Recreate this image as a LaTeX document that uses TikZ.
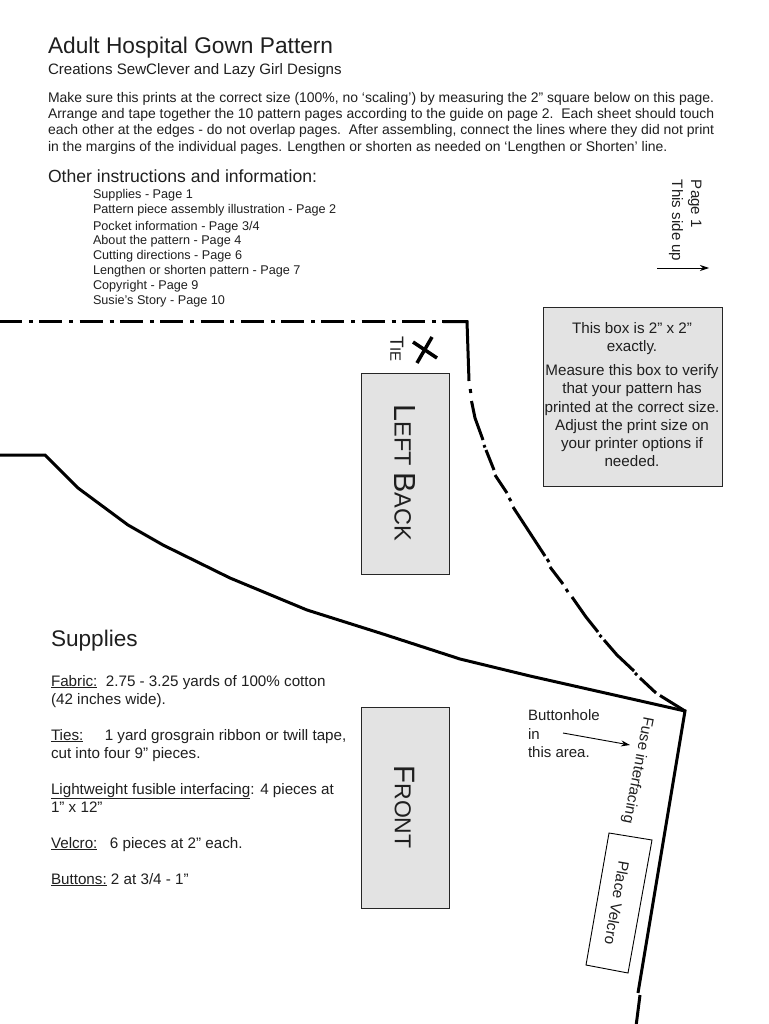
\documentclass[tikz,border=0pt]{standalone}
\usepackage{fontspec}
\usetikzlibrary{arrows.meta}
\setmainfont{Liberation Sans}
\tikzset{
 x=1pt,y=-1pt,
 txt/.style={anchor=base west,inner sep=0pt,outer sep=0pt,text=black!88},
 body/.style={txt,font=\fontsize{13.95}{15}\selectfont},
 small/.style={txt,font=\fontsize{12.65}{14}\selectfont},
 supp/.style={txt,font=\fontsize{15.2}{17}\selectfont},
 grayb/.style={draw=black!85,line width=.9pt,fill=black!11},
 patt/.style={line width=3pt,black},
 dd/.style={patt,dash pattern=on 23pt off 6.9pt on 4pt off 6.4pt,dash phase=1pt},
 arr/.style={-{Stealth[length=9pt,width=6pt]},line width=.9pt},
}
\begin{document}
\begin{tikzpicture}
\useasboundingbox (0,0) rectangle (768,1024);
\fill[white] (0,0) rectangle (768,1024);
\node[txt,font=\fontsize{22.7}{24}\selectfont] (title) at (48,54) {Adult Hospital Gown Pattern};
\node[txt,font=\fontsize{15.1}{16}\selectfont] (sub) at (48,75) {Creations SewClever and Lazy Girl Designs};
\node[body] (l1) at (48,103) {Make sure this prints at the correct size (100\%, no ‘scaling’) by measuring the 2” square below on this page.};
\node[body] (l2) at (48,118.5) {Arrange and tape together the 10 pattern pages according to the guide on page 2.\ \ Each sheet should touch};
\node[body] (l3) at (48,134.5) {each other at the edges - do not overlap pages.\ \ After assembling, connect the lines where they did not print};
\node[body] (l4) at (48,152) {in the margins of the individual pages. Lengthen or shorten as needed on ‘Lengthen or Shorten’ line.};
\node[txt,font=\fontsize{17.6}{20}\selectfont] (other) at (48,182.5) {Other instructions and information:};
\node[small] (i1) at (93,199) {Supplies - Page 1};
\node[small] (i2) at (93,214) {Pattern piece assembly illustration - Page 2};
\node[small] (i3) at (93,230) {Pocket information - Page 3/4};
\node[small] (i4) at (93,244.5) {About the pattern - Page 4};
\node[small] (i5) at (93,259.5) {Cutting directions - Page 6};
\node[small] (i6) at (93,274.5) {Lengthen or shorten pattern - Page 7};
\node[small] (i7) at (93,289.5) {Copyright - Page 9};
\node[small] (i8) at (93,304.5) {Susie’s Story - Page 10};
\node[txt,rotate=-90,font=\fontsize{15.1}{16}\selectfont] (pg) at (691,180) {Page 1};
\node[txt,rotate=-90,font=\fontsize{15.1}{16}\selectfont] (up) at (672,180) {This side up};
\coordinate (a1) at (657,268);
\coordinate (a2) at (709,268);
\draw[arr] (a1) -- (a2);
% grey box
\path[grayb] (543,307) rectangle (722,486);
\node[anchor=center,align=center,font=\fontsize{15.2}{18}\selectfont,text=black!88] (gt1) at (632,338.5) {This box is 2” x 2”\\exactly.};
\node[anchor=center,align=center,font=\fontsize{15.2}{18.1}\selectfont,text=black!88] (gt2) at (632,415.7) {Measure this box to verify\\that your pattern has\\printed at the correct size.\\Adjust the print size on\\your printer options if\\needed.};
% left back, front
\node[grayb,minimum width=88pt,minimum height=201pt,inner sep=0pt,anchor=north west] (lb) at (361,373) {};
\node[rotate=-90,font=\fontsize{30.5}{32}\selectfont,text=black!88,inner sep=0pt] (lbt) at (405,473) {L\fontsize{23.5}{25}\selectfont EFT \fontsize{30.5}{32}\selectfont B\fontsize{23.5}{25}\selectfont ACK};
\node[grayb,minimum width=88pt,minimum height=201pt,inner sep=0pt,anchor=north west] (fr) at (361,707) {};
\node[rotate=-90,font=\fontsize{29.5}{32}\selectfont,text=black!88,inner sep=0pt] (frt) at (405,807) {F\fontsize{23}{25}\selectfont RONT};
\node[rotate=-90,font=\fontsize{19}{21}\selectfont,text=black!88,inner sep=0pt] (tie) at (397,349) {T\fontsize{15}{17}\selectfont IE};
\draw[line width=3.5pt] (413,342) -- (437,358);
\draw[line width=3.5pt] (432,337) -- (417,363);
% pattern lines
\draw[dd] (0,321.5) -- (443,321.5);
\draw[patt,miter limit=10] (443,321.5) -- (467,321.5) -- (469,381);
\draw[patt] (470.2,389) -- (470.8,393);
\draw[patt] (471.5,401) -- (475,418) -- (483,440);
\draw[patt] (484,445) -- (485,447.5);
\draw[patt] (486,450) -- (494,470);
\draw[patt] (495,475) -- (507,493);
\draw[patt] (509,498) -- (511,501);
\draw[patt] (513,507) -- (545,556);
\draw[patt] (547,559) -- (549,562);
\draw[patt] (550,567) -- (563,584);
\draw[patt] (566,589) -- (568,592);
\draw[patt] (572,597) -- (586,617) -- (598,632);
\draw[patt] (599.5,635) -- (601.5,637);
\draw[patt] (604,640) -- (617,655) -- (634,671);
\draw[patt] (635,673) -- (637,675);
\draw[patt] (640,678) -- (656,693);
\draw[patt] (660,695.5) -- (685,711);
\draw[patt,miter limit=10] (0,455) -- (45,455) -- (78,488) -- (128,525) -- (163,545) -- (230,578) -- (307,610) -- (383,634) -- (460,659) -- (530,676) -- (685,711) -- (638,993);
\draw[patt] (640,995) -- (636.3,1024);
% supplies
\node[txt,font=\fontsize{22.6}{24}\selectfont] (s0) at (51,646.5) {Supplies};
\node[supp] (s1) at (51,686) {\underline{Fabric:}\ \ 2.75 - 3.25 yards of 100\% cotton};
\node[supp] (s2) at (51,704) {(42 inches wide).};
\node[supp] (s3) at (51,740) {\underline{Ties:}\ \ \ \ \hspace{4.5pt}1 yard grosgrain ribbon or twill tape,};
\node[supp] (s4) at (51,758) {cut into four 9” pieces.};
\node[supp] (s5) at (51,794) {\underline{Lightweight fusible interfacing}: 4 pieces at};
\node[supp] (s6) at (51,812) {1” x 12”};
\node[supp] (s7) at (51,848) {\underline{Velcro:}\ \ \hspace{4pt}6 pieces at 2” each.};
\node[supp] (s8) at (51,884) {\underline{Buttons:} 2 at 3/4 - 1”};
% buttonhole
\node[txt,font=\fontsize{15}{17}\selectfont] (b1) at (528,720) {Buttonhole};
\node[txt,font=\fontsize{15}{17}\selectfont] (b2) at (528,739) {in};
\node[txt,font=\fontsize{15}{17}\selectfont] (b3) at (528,757) {this area.};
\coordinate (b4) at (563,733);
\coordinate (b5) at (630,745);
\draw[arr] (b4) -- (b5);
\node[rotate=-101,font=\fontsize{15.2}{17}\selectfont,text=black!88,inner sep=0pt] (fi) at (637.5,770) {Fuse interfacing};
\draw[line width=.9pt,fill=white] (609,833) -- (652,840) -- (628,973) -- (586,965) -- cycle;
\node[rotate=-100,font=\fontsize{15.2}{17}\selectfont,text=black!88,inner sep=0pt] (pv) at (617,903) {Place Velcro};
\end{tikzpicture}
\end{document}
